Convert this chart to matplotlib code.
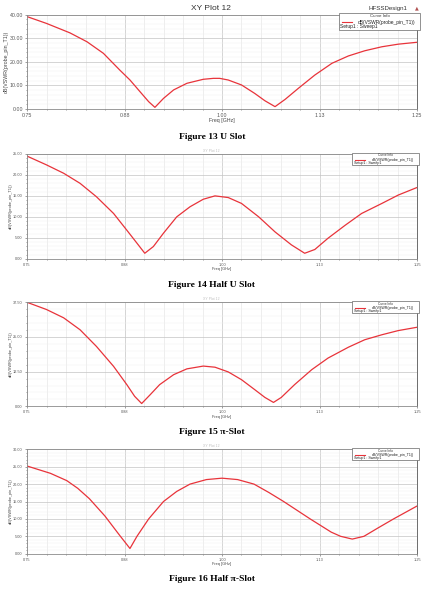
import matplotlib
matplotlib.use("Agg")
import matplotlib.pyplot as plt
from matplotlib.ticker import MultipleLocator, FixedLocator, FixedFormatter
from matplotlib.patches import Rectangle
from matplotlib.lines import Line2D

# curve values
u_freq = [0.75, 0.775, 0.805, 0.827, 0.848, 0.869, 0.882, 0.895, 0.906, 0.914, 0.925, 0.938, 0.955,
          0.976, 0.989, 0.997, 1.008, 1.025, 1.042, 1.055, 1.068, 1.081, 1.098, 1.119, 1.141, 1.162,
          1.183, 1.205, 1.226, 1.25]
u_db = [39.2, 36.3, 32.3, 28.5, 23.6, 16.5, 12.3, 7.3, 3.1, 0.7, 4.5, 8.1, 10.9,
        12.6, 13.0, 13.0, 12.3, 10.2, 6.6, 3.5, 1.0, 4.1, 8.8, 14.4, 19.4, 22.5,
        24.7, 26.4, 27.5, 28.3]

half_u_freq = [0.75, 0.775, 0.797, 0.818, 0.839, 0.861, 0.878, 0.891, 0.901, 0.912, 0.925, 0.942, 0.959,
               0.976, 0.991, 1.008, 1.025, 1.047, 1.068, 1.089, 1.106, 1.119, 1.136, 1.158, 1.179,
               1.205, 1.226, 1.25]
half_u_db = [24.5, 22.4, 20.4, 18.0, 14.8, 10.8, 6.8, 3.7, 1.3, 2.9, 6.1, 10.0, 12.4,
             14.2, 15.0, 14.6, 13.2, 10.0, 6.4, 3.3, 1.3, 2.2, 4.9, 8.0, 10.8,
             13.2, 15.2, 17.0]

pi_freq = [0.75, 0.775, 0.797, 0.818, 0.839, 0.861, 0.878, 0.888, 0.897, 0.908, 0.920, 0.938, 0.955,
           0.976, 0.991, 1.008, 1.025, 1.042, 1.055, 1.066, 1.076, 1.093, 1.115, 1.136, 1.162,
           1.183, 1.205, 1.226, 1.25]
pi_db = [37.5, 34.9, 31.9, 27.6, 21.6, 14.4, 7.8, 3.6, 1.0, 4.2, 7.8, 11.4, 13.5,
         14.5, 14.1, 12.4, 9.6, 6.0, 3.2, 1.4, 3.2, 7.8, 13.2, 17.4, 21.3,
         24.0, 25.8, 27.3, 28.5]

half_pi_freq = [0.75, 0.780, 0.801, 0.815, 0.830, 0.850, 0.868, 0.882, 0.891, 0.906, 0.925, 0.942, 0.959,
                0.980, 1.00, 1.020, 1.041, 1.060, 1.079, 1.113, 1.140, 1.152, 1.167, 1.182, 1.200,
                1.220, 1.25]
half_pi_db = [25.2, 23.1, 21.0, 18.8, 15.8, 10.8, 5.5, 1.5, 5.0, 10.0, 15.0, 17.9, 20.0,
              21.3, 21.7, 21.3, 20.0, 17.6, 15.0, 10.0, 6.2, 5.0, 4.2, 5.0, 7.4,
              10.0, 13.7]

x_ticks = [0.75, 0.875, 1.0, 1.125, 1.25]
x_labels = ['0.75', '0.88', '1.00', '1.13', '1.25']

ylims = [40, 25, 37.5, 30]
ysteps = [10, 5, 12.5, 5]
captions = ['Figure 13 U Slot', 'Figure 14 Half U Slot', 'Figure 15 \u03c0-Slot', 'Figure 16 Half \u03c0-Slot']

RED = '#e8333a'
SANS = ['Liberation Sans', 'DejaVu Sans']
W, H = 428, 594

plt.rcParams['font.family'] = SANS

fig = plt.figure(figsize=(W / 100, H / 100), dpi=100)
fig.patch.set_facecolor('white')

# top, bottom of each axes and caption y, in pixels
boxes = [(14.7, 109.0, 137), (154.0, 258.7, 285), (302.3, 406.3, 431.7), (449.3, 553.7, 579)]
curves = [(u_freq, u_db), (half_u_freq, half_u_db), (pi_freq, pi_db), (half_pi_freq, half_pi_db)]


def fx(px):
    return px / W


def fy(py):
    return 1 - py / H


def curve_info(x0, x1, y0, y1, fs):
    # small HFSS "Curve Info" box, drawn in figure pixels
    fig.add_artist(Rectangle((fx(x0), fy(y1)), fx(x1 - x0), (y1 - y0) / H, transform=fig.transFigure,
                             facecolor='white', edgecolor='#666666', lw=0.5, zorder=5))
    h = y1 - y0
    fig.text(fx((x0 + x1) / 2), fy(y0 + h * 0.2), 'Curve Info', ha='center', va='center',
             fontsize=fs * 0.9, color='#333333', zorder=6)
    fig.add_artist(Line2D([fx(x0 + 3), fx(x0 + 13)], [fy(y0 + h * 0.55)] * 2, transform=fig.transFigure,
                          color=RED, lw=0.8, zorder=6))
    fig.text(fx(x1 - 5), fy(y0 + h * 0.55), 'dB(VSWR(probe_pin_T1))', ha='right', va='center',
             fontsize=fs, color='#222222', zorder=6)
    fig.text(fx(x0 + 1.5), fy(y0 + h * 0.82), 'Setup1 : Sweep1', ha='left', va='center',
             fontsize=fs, color='#222222', zorder=6)


def draw_panel(i):
    top, bot, cap_y = boxes[i]
    left, right = 27, 417
    ax = fig.add_axes([fx(left), fy(bot), fx(right - left), (bot - top) / H])
    f, v = curves[i]
    ax.plot(f, v, color=RED, lw=0.9, solid_joinstyle='round', solid_capstyle='round')
    ax.set_xlim(0.75, 1.25)
    ax.set_ylim(0, ylims[i])

    big = (i == 0)
    fs = 3.8 if big else 2.8

    ax.xaxis.set_major_locator(FixedLocator(x_ticks))
    ax.xaxis.set_major_formatter(FixedFormatter(x_labels))
    ax.xaxis.set_minor_locator(MultipleLocator(0.025))
    ax.yaxis.set_major_locator(MultipleLocator(ysteps[i]))
    ax.yaxis.set_minor_locator(MultipleLocator(ysteps[i] / 5))
    ax.yaxis.set_major_formatter(plt.FormatStrFormatter('%.2f'))
    ax.tick_params(which='both', labelsize=fs, colors='#555555', length=1.5, width=0.4, pad=1.5)
    ax.tick_params(which='minor', length=1.0)

    ax.grid(which='major', color='#c4c4c4', lw=0.5)
    ax.grid(which='minor', axis='x', color='#e2e2e2', lw=0.4)
    ax.grid(which='minor', axis='y', color='#efefef', lw=0.35)
    ax.set_axisbelow(True)
    for s in ax.spines.values():
        s.set_color('#8a8a8a')
        s.set_linewidth(0.6)
    ax.spines['right'].set_color('#555555')

    ax.set_xlabel('Freq [GHz]', fontsize=fs, color='#444444', labelpad=0.2)
    ax.set_ylabel('dB(VSWR(probe_pin_T1))', fontsize=fs, color='#444444', labelpad=0.3)

    if big:
        curve_info(339, 420, 13, 30, 3.5)
        fig.text(fx(211), fy(8.3), 'XY Plot 12', ha='center', va='center', fontsize=6, color='#333333')
        fig.text(fx(388), fy(8.3), 'HFSSDesign1', ha='center', va='center', fontsize=4.4, color='#333333')
        fig.text(fx(417), fy(8.0), '\u25b2', ha='center', va='center', fontsize=3.5, color='#b05050',
                 family=['DejaVu Sans'])
    else:
        curve_info(352, 419, top - 1, top + 11, 2.6)
        fig.text(fx(211), fy(top - 3), 'XY Plot 12', ha='center', va='center', fontsize=2.5, color='#c0c0c0')

    fig.text(fx(212), fy(cap_y), captions[i], ha='center', va='center', fontsize=6.8,
             fontweight='bold', family=['Liberation Serif', 'DejaVu Serif'])


for i in range(4):
    draw_panel(i)

fig.savefig('out.png', dpi=100)
